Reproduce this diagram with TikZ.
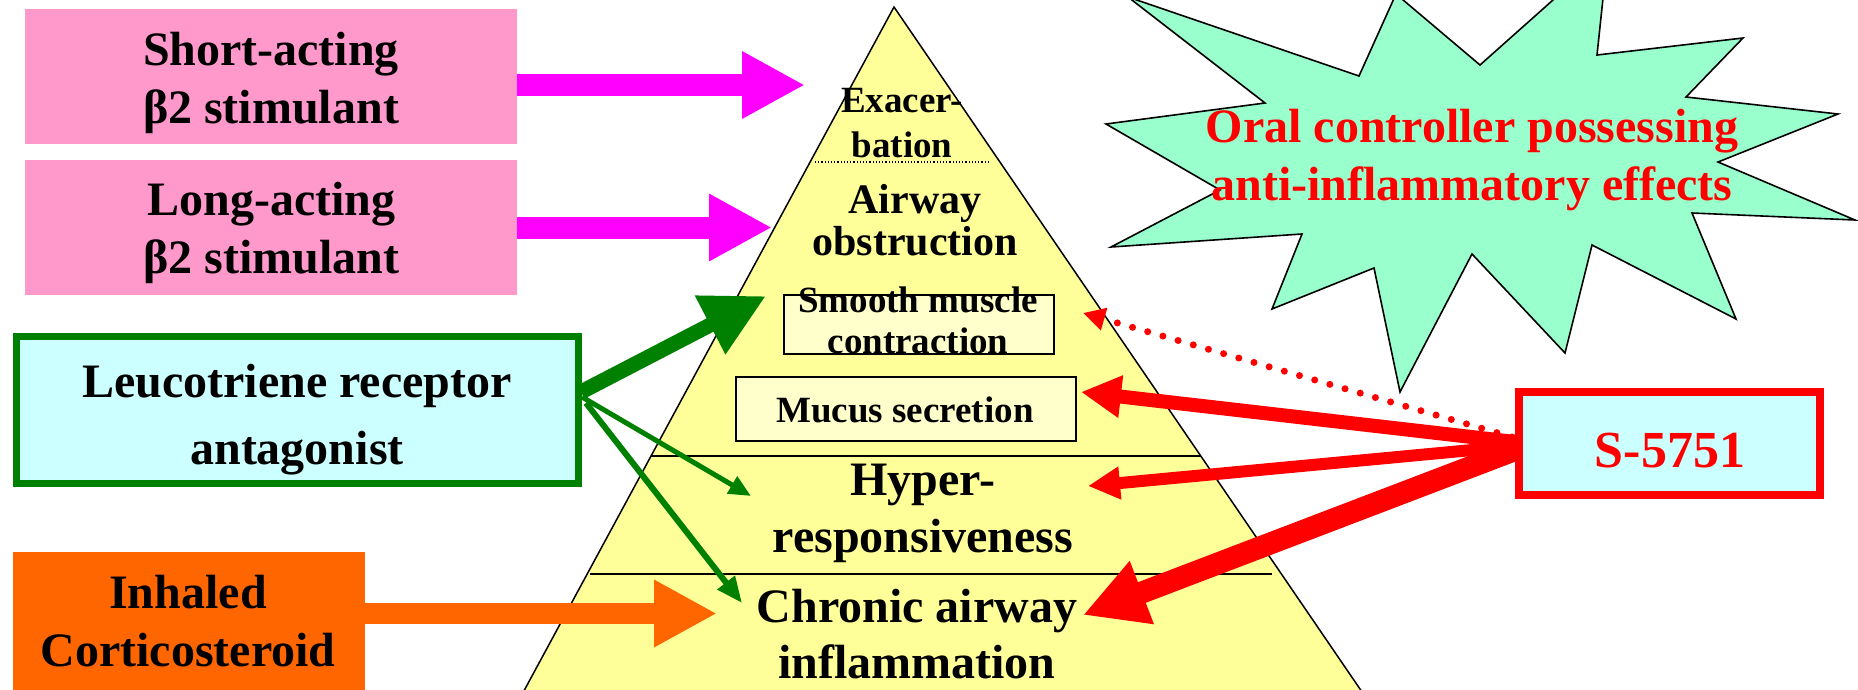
\documentclass[tikz,border=0pt]{standalone}
\usepackage{fontspec}
\setmainfont{Liberation Serif}
\usetikzlibrary{arrows.meta,calc}
\definecolor{pinkfill}{HTML}{FF99CC}
\definecolor{magent}{HTML}{FF00FF}
\definecolor{orangefill}{HTML}{FF6600}
\definecolor{darkgreen}{HTML}{008000}
\definecolor{cyanfill}{HTML}{CCFFFF}
\definecolor{pyrfill}{HTML}{FFFF99}
\definecolor{innerfill}{HTML}{FFFFCC}
\definecolor{starfill}{HTML}{99FFCC}
\definecolor{redc}{HTML}{FF0000}
\begin{document}
\begin{tikzpicture}[x=1pt,y=-1pt,
  plainbox/.style={rectangle, inner sep=0pt, outer sep=0pt},
  txt/.style={align=center, anchor=base, inner sep=0pt, outer sep=0pt},
  big/.style={font=\fontsize{48}{58}\selectfont\bfseries},
  magarrow/.style={magent, line width=22pt, -{Triangle[length=63pt,width=63pt]}},
  orarrow/.style={orangefill, line width=21pt, -{Triangle[length=63pt,width=63pt]}},
  innerbox/.style={plainbox, draw=black, line width=2pt, fill=innerfill},
  sepline/.style={black, line width=1.8pt},
]
\useasboundingbox (0,0) rectangle (1858,689);

% starburst
\draw[fill=starfill, line width=1.6pt, line join=miter]
  (1128,-3) -- (1359,76) -- (1396,-6) -- (1480,65) -- (1608,-49) -- (1597,55)
  -- (1743,38) -- (1686,97) -- (1838,114) -- (1718,162) -- (1855,220)
  -- (1692,213) -- (1736,319) -- (1592,245) -- (1565,353) -- (1472,254)
  -- (1400,392) -- (1374,268) -- (1272,309) -- (1302,234) -- (1111,247)
  -- (1220,190) -- (1106,124) -- (1265,103) -- cycle;
% (base anchor of a multi-line node = baseline of its last line)
\node[txt, big, text=redc] (startxt) at (1472,200)
  {Oral controller possessing\\anti-inflammatory effects};

% pyramid
\draw[fill=pyrfill, line width=1.5pt] (894,7) -- (1367.5,700) -- (519,700) -- cycle;
\draw[black, line width=1.2pt, dotted] (815,162) -- (989,162);
\draw[sepline] (651,456) -- (1201,456);
\draw[sepline] (590,574) -- (1272,574);

% inner boxes
\node[innerbox, minimum width=270pt, minimum height=59pt] (smbox) at (919,324.5) {};
\node[innerbox, minimum width=340pt, minimum height=64pt] (mubox) at (906,409) {};

% pyramid texts
\node[txt, font=\fontsize{37}{45}\selectfont\bfseries] (exa) at (902,157) {Exacer-\\bation};
\node[txt, font=\fontsize{42}{42}\selectfont\bfseries] (obs) at (915,255) {Airway\\obstruction};
\node[txt, font=\fontsize{37}{41}\selectfont\bfseries] (smt) at (918,353) {Smooth muscle\\contraction};
\node[txt, font=\fontsize{37}{41}\selectfont\bfseries] (mut) at (905,422) {Mucus secretion};
\node[txt, font=\fontsize{48}{57}\selectfont\bfseries] (hyp) at (923,552) {Hyper-\\responsiveness};
\node[txt, font=\fontsize{48}{56}\selectfont\bfseries] (chr) at (917,678) {Chronic airway\\inflammation};

% left boxes
\node[plainbox, fill=pinkfill, minimum width=492pt, minimum height=135pt] (sa) at (271,76.5) {};
\node[txt, big] (satxt) at (271,123) {Short-acting\\β2 stimulant};
\node[plainbox, fill=pinkfill, minimum width=492pt, minimum height=135pt] (la) at (271,227.5) {};
\node[txt, big] (latxt) at (271.5,273) {Long-acting\\β2 stimulant};
\node[rectangle, inner sep=0pt, draw=darkgreen, line width=7pt, fill=cyanfill,
      minimum width=562pt, minimum height=147pt] (ltra) at (297.5,410) {};
\node[txt, font=\fontsize{48}{67}\selectfont\bfseries] (ltratxt) at (297,464) {Leucotriene receptor\\antagonist};
\node[plainbox, fill=orangefill, minimum width=352pt, minimum height=148pt] (ic) at (189,626) {};
\node[txt, big] (ictxt) at (188,666) {Inhaled\\Corticosteroid};

% S-5751
\node[rectangle, inner sep=0pt, draw=redc, line width=8pt, fill=cyanfill,
      minimum width=301pt, minimum height=103pt] (s) at (1669.5,443.5) {};
\node[txt, font=\fontsize{52}{60}\selectfont\bfseries, text=redc] (stxt) at (1670,467) {S-5751};

% arrow tips
\coordinate (satip) at (805,85);
\coordinate (latip) at (772,227.5);
\coordinate (ictip) at (717,613.5);
\coordinate (gtip1) at (766,296);
\coordinate (gtip2) at (751,496);
\coordinate (gtip3) at (742,603);
\coordinate (rtip0) at (1083,313);
\coordinate (rtip1) at (1081,392);
\coordinate (rtip2) at (1088,486);
\coordinate (rtip3) at (1083,615);

% magenta / orange block arrows
\draw[magarrow] (sa.east |- satip) -- (satip);
\draw[magarrow] (la.east |- latip) -- (latip);
\draw[orarrow] (ic.east |- ictip) -- (ictip);

% green arrows
\draw[darkgreen, line width=15pt, -{Triangle[length=63pt,width=62pt]}]
  ($(ltra.east)+(-1,-18)$) -- (gtip1);
\draw[darkgreen, line width=5pt, -{Triangle[length=22pt,width=19pt]}]
  ($(ltra.east)+(0,-13)$) -- (gtip2);
\draw[darkgreen, line width=6pt, -{Triangle[length=26pt,width=21pt]}]
  ($(ltra.east)+(4,-7)$) -- (gtip3);

% red arrows
\draw[redc, line width=7pt, line cap=round, dash pattern=on 0pt off 15.8pt,
      -{Triangle[length=22pt,width=22pt]}]
  ($(s.west)+(-3,-6.5)$) -- (rtip0);
\draw[redc, line width=14pt, -{Triangle[length=40pt,width=40pt]}]
  ($(s.west)+(0,-1.5)$) -- (rtip1);
\draw[redc, line width=12pt, -{Triangle[length=32pt,width=31pt]}]
  ($(s.west)+(0,2.5)$) -- (rtip2);
\draw[redc, line width=22pt, -{Triangle[length=63pt,width=63pt]}]
  ($(s.west)+(0,6.5)$) -- (rtip3);
\end{tikzpicture}
\end{document}
